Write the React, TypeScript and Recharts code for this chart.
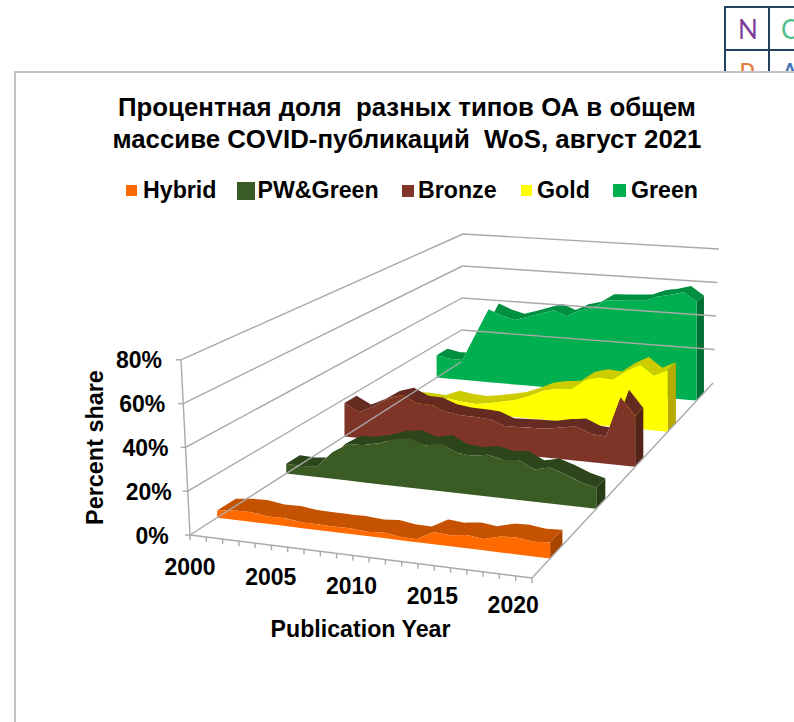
import { ComposedChart, Area, Line, XAxis, YAxis, ReferenceDot } from "recharts";

const WIDTH = 794;
const HEIGHT = 722;
const FONT = '"Liberation Sans", Arial, sans-serif';

const YEARS = [
  2000, 2001, 2002, 2003, 2004, 2005, 2006, 2007, 2008, 2009, 2010,
  2011, 2012, 2013, 2014, 2015, 2016, 2017, 2018, 2019, 2020,
];
const YEAR_LABELS = [2000, 2005, 2010, 2015, 2020];
const PERCENT_TICKS = [0, 20, 40, 60, 80];

const hybrid = [3.4, 4.4, 4.6, 3.5, 3.7, 2.7, 2.6, 2.5, 2.6, 2, 2.6, 1.5, 1.4, 5.6, 5, 6, 5.1, 7.2, 7.6, 6.6, 7.1];
const pwGreen = [5, 4.7, 5.5, 13.4, 18.3, 18.6, 20.4, 23.2, 24.3, 21.7, 23.5, 19.7, 19.1, 20.4, 18.7, 19.5, 15.7, 17.4, 15, 12, 10.1];
const bronze = [18, 13.9, 17.7, 22.9, 25.4, 21.7, 21.5, 18.7, 17.6, 17.5, 17, 14.2, 14.5, 14.8, 15.1, 16.7, 17.7, 14.7, 14.1, 35, 26.2];
const gold = [4, 4, 4, 3.6, 6.8, 5.7, 5.2, 6.4, 8, 9.7, 12.8, 16.4, 18, 18.7, 24.4, 26.5, 26, 31.4, 35.3, 30, 33.7];
const green = [13.5, 12, 12, 28, 43.5, 40.5, 38.5, 40.8, 43.5, 46, 43, 47, 49, 54, 54.5, 55, 55.5, 58.5, 60, 62, 57];

// drawn back to front
const RIBBONS = [
  { name: "Green", values: green, depth: 0.91, thick: 0.04, front: "#00b050", top: "#008f41", side: "#006f33" },
  { name: "Gold", values: gold, depth: 0.75, thick: 0.045, front: "#ffff00", top: "#cccc00", side: "#b8aa00" },
  { name: "Bronze", values: bronze, depth: 0.57, thick: 0.045, front: "#7f3428", top: "#652a20", side: "#54231a" },
  { name: "PW&Green", values: pwGreen, depth: 0.355, thick: 0.05, front: "#3b5b24", top: "#2c451b", side: "#263b16" },
  { name: "Hybrid", values: hybrid, depth: 0.1, thick: 0.068, front: "#ff6a00", top: "#c55200", side: "#a84500" },
];

const LEGEND = [
  { name: "Hybrid", color: "#ff6a00", swatchX: 126, size: 11, textX: 143 },
  { name: "PW&Green", color: "#3b5b24", swatchX: 237, size: 18, textX: 257.5 },
  { name: "Bronze", color: "#7f3428", swatchX: 402, size: 12, textX: 418 },
  { name: "Gold", color: "#ffff00", swatchX: 521, size: 11, textX: 537 },
  { name: "Green", color: "#00b050", swatchX: 613, size: 13, textX: 631 },
];

const mix = (a: number, b: number, t: number) => a + (b - a) * t;
const corners = (fl: number, fr: number, bl: number, br: number, u: number, w: number) =>
  mix(mix(fl, fr, u), mix(bl, br, u), w);

// 3D box: u along the years, w into the depth, v in percent
function project(u: number, w: number, v: number, lean = false) {
  const x = corners(190, 532, 461, 713, u, w);
  const y = corners(535, 578, 362, 383, u, w);
  const scale = corners(2.19, 2.3, 1.6, 1.675, u, w);
  const tilt = lean ? (corners(-9, -4, 2, 6, u, w) * v) / 80 : 0;
  return { x: x + tilt, y: y - v * scale };
}

type Pt = { x: number; y: number };

function yAt(poly: Pt[], x: number) {
  for (let i = 1; i < poly.length; i++) {
    if (x <= poly[i].x) {
      const a = poly[i - 1];
      const b = poly[i];
      return b.x === a.x ? b.y : mix(a.y, b.y, (x - a.x) / (b.x - a.x));
    }
  }
  return poly[poly.length - 1].y;
}

function frontRows(values: number[], depth: number) {
  return values.map((v, i) => {
    const u = i / (values.length - 1);
    const top = project(u, depth, v);
    return { x: top.x, range: [project(u, depth, 0).y, top.y] };
  });
}

// top band of a ribbon, as the range between its front and back outlines
function topRows(values: number[], depth: number, thick: number) {
  const last = values.length - 1;
  const front = values.map((v, i) => project(i / last, depth, v));
  const back = values.map((v, i) => project(i / last, depth + thick, v));
  const lower = [...front, back[last]];
  const upper = [front[0], ...back];
  const xs = [...lower, ...upper].map((p) => p.x).sort((a, b) => a - b);
  return xs.map((x) => ({ x, range: [yAt(lower, x), yAt(upper, x)] }));
}

function sideRows(values: number[], depth: number, thick: number) {
  const v = values[values.length - 1];
  return [depth, depth + thick].map((w) => {
    const top = project(1, w, v);
    return { x: top.x, range: [project(1, w, 0).y, top.y] };
  });
}

const GRID_LINES = PERCENT_TICKS.flatMap((p) => {
  const lines = [[project(0, 0, p, true), project(0, 1, p, true)]];
  if (p > 0) lines.push([project(0, 1, p, true), project(1, 1, p, true)]);
  return lines;
});
const PERCENT_MARKS = PERCENT_TICKS.map((p) => {
  const a = project(0, 0, p, true);
  return [{ x: a.x - 5, y: a.y }, a];
});
const YEAR_MARKS = [...YEARS, 2021].map((_, i) => {
  const a = project(i / 21, 0, 0);
  return [a, { x: a.x, y: a.y + 5 }];
});
const EDGES = [
  [project(0, 0, 0, true), project(0, 0, 80, true)],
  [project(0, 0, 0), project(1, 0, 0)],
  [project(1, 0, 0), project(1, 1, 0)],
];

const textStyle = { fill: "#000", fontFamily: FONT, fontWeight: 700 };

function TableCorner() {
  const line = "#24405f";
  const cell = { position: "absolute", fontFamily: "Lato, sans-serif", fontSize: 26, lineHeight: "30px" } as const;
  return (
    <div style={{ position: "absolute", left: 0, top: 0, width: WIDTH, height: 72, overflow: "hidden" }}>
      <div style={{ position: "absolute", left: 724, top: 6, width: 70, height: 2, background: line }} />
      <div style={{ position: "absolute", left: 724, top: 49, width: 70, height: 2, background: line }} />
      <div style={{ position: "absolute", left: 724, top: 6, width: 2, height: 70, background: line }} />
      <div style={{ position: "absolute", left: 768, top: 6, width: 2, height: 70, background: line }} />
      <span style={{ ...cell, left: 738, top: 14, color: "#7d3c98" }}>N</span>
      <span style={{ ...cell, left: 781, top: 14, color: "#4fc08d" }}>C</span>
      <span style={{ ...cell, left: 739, top: 58, color: "#e67e45" }}>P</span>
      <span style={{ ...cell, left: 781, top: 58, color: "#3f6fb5" }}>A</span>
    </div>
  );
}

export default function App() {
  return (
    <div style={{ position: "absolute", left: 0, top: 0, width: WIDTH, height: HEIGHT, overflow: "hidden", background: "#fff" }}>
      <TableCorner />
      <div
        style={{
          position: "absolute",
          left: 14,
          top: 71,
          width: WIDTH,
          height: HEIGHT,
          borderLeft: "2px solid #c4c4c4",
          borderTop: "2px solid #c4c4c4",
          background: "#fff",
        }}
      />
      {["Процентная доля  разных типов ОА в общем", "массиве COVID-публикаций  WoS, август 2021"].map((t, i) => (
        <div
          key={t}
          style={{
            position: "absolute",
            left: 0,
            width: 814,
            top: 91 + i * 32,
            textAlign: "center",
            whiteSpace: "pre",
            fontFamily: FONT,
            fontWeight: 700,
            fontSize: 25.8,
            lineHeight: "32px",
            color: "#000",
          }}
        >
          {t}
        </div>
      ))}
      {LEGEND.map((l) => (
        <div key={l.name}>
          <div
            style={{
              position: "absolute",
              left: l.swatchX,
              top: 190.5 - l.size / 2,
              width: l.size,
              height: l.size,
              background: l.color,
            }}
          />
          <div
            style={{
              position: "absolute",
              left: l.textX,
              top: 176,
              fontFamily: FONT,
              fontWeight: 700,
              fontSize: 23.2,
              lineHeight: "28px",
              color: "#000",
            }}
          >
            {l.name}
          </div>
        </div>
      ))}
      <div style={{ position: "absolute", left: 0, top: 0 }}>
        <ComposedChart width={WIDTH} height={HEIGHT} margin={{ top: 0, right: 0, bottom: 0, left: 0 }}>
          <XAxis dataKey="x" type="number" domain={[0, WIDTH]} hide allowDataOverflow />
          <YAxis type="number" domain={[0, HEIGHT]} reversed hide allowDataOverflow />
          {[...GRID_LINES, ...PERCENT_MARKS, ...YEAR_MARKS, ...EDGES].map((pts, i) => (
            <Line
              key={`axis-${i}`}
              data={pts}
              dataKey="y"
              stroke="#a9a9a9"
              strokeWidth={1.4}
              dot={false}
              activeDot={false}
              legendType="none"
              isAnimationActive={false}
            />
          ))}
          {RIBBONS.flatMap((r) => [
            <Area
              key={`${r.name}-side`}
              data={sideRows(r.values, r.depth, r.thick)}
              dataKey="range"
              type="linear"
              fill={r.side}
              fillOpacity={1}
              stroke="none"
              dot={false}
              activeDot={false}
              isAnimationActive={false}
            />,
            <Area
              key={`${r.name}-top`}
              data={topRows(r.values, r.depth, r.thick)}
              dataKey="range"
              type="linear"
              fill={r.top}
              fillOpacity={1}
              stroke="none"
              dot={false}
              activeDot={false}
              isAnimationActive={false}
            />,
            <Area
              key={`${r.name}-front`}
              data={frontRows(r.values, r.depth)}
              dataKey="range"
              type="linear"
              fill={r.front}
              fillOpacity={1}
              stroke="none"
              dot={false}
              activeDot={false}
              isAnimationActive={false}
            />,
          ])}
          {PERCENT_TICKS.map((p, i) => (
            <ReferenceDot
              key={p}
              x={152 - (i * 13) / 4}
              y={536 - i * 44}
              r={0}
              fill="none"
              stroke="none"
              label={{ value: `${p}%`, position: "center", fontSize: 23, ...textStyle }}
            />
          ))}
          {YEAR_LABELS.map((year, i) => (
            <ReferenceDot
              key={year}
              x={190 + i * 80.8}
              y={567 + i * 9.5}
              r={0}
              fill="none"
              stroke="none"
              label={{ value: String(year), position: "center", fontSize: 23, ...textStyle }}
            />
          ))}
          <ReferenceDot
            x={360.5}
            y={629}
            r={0}
            fill="none"
            stroke="none"
            label={{ value: "Publication Year", position: "center", fontSize: 23.2, ...textStyle }}
          />
          <ReferenceDot
            x={95}
            y={447.5}
            r={0}
            fill="none"
            stroke="none"
            label={{ value: "Percent share", position: "center", angle: -90, fontSize: 23.4, ...textStyle }}
          />
        </ComposedChart>
      </div>
    </div>
  );
}
